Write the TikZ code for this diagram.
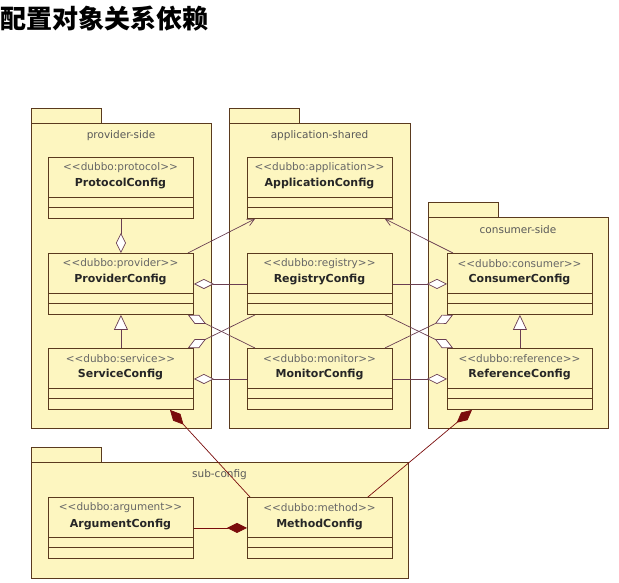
\documentclass[tikz,border=0pt]{standalone}
\usepackage{fontspec}
\setmainfont{DejaVu Sans}
\newfontfamily\cjk{Noto Sans CJK SC}
\usetikzlibrary{arrows.meta,calc}
\definecolor{pk}{HTML}{FDF6C0}
\definecolor{bd}{HTML}{5A3A1E}
\definecolor{ln}{HTML}{6A3E52}
\definecolor{cm}{HTML}{7A0C0C}
\tikzset{x=1pt,y=-1pt,
 pkg/.style={draw=bd,fill=pk,line width=0.9pt},
 cls/.style={draw=bd,fill=pk,line width=0.9pt,minimum width=145pt,minimum height=61pt,anchor=north west,inner sep=0pt},
 lbl/.style={font=\fontsize{10.5}{12}\selectfont,text=black!65},
 st/.style={font=\fontsize{10.5}{12}\selectfont,text=black!60},
 nm/.style={font=\bfseries\fontsize{11}{12}\selectfont,text=black!85},
 con/.style={draw=ln,line width=0.7pt},
 agg/.style={con,{Diamond[open,length=20pt,width=10pt,fill=white]}-},
 cmp/.style={draw=cm,line width=0.7pt,{Diamond[length=20pt,width=10pt,fill=cm]}-},
 gen/.style={con,-{Triangle[open,length=15pt,width=14pt,fill=white]}},
 dep/.style={con,-{Straight Barb[length=7pt,width=7pt]}}}
\newcommand{\umlcls}[5]{%
 \node[cls] (#1) at (#2,#3) {};
 \draw[bd,line width=0.9pt] (#2,#3+40) -- ++(145,0) (#2,#3+50) -- ++(145,0);
 \node[st] at (#2+72.5,#3+11) {{<}{<}#4{>}{>}};
 \node[nm] at (#2+72.5,#3+27) {#5};}
\newcommand{\umlpkg}[6]{%
 \draw[pkg] (#2,#3) rectangle (#2+70,#3+15);
 \node[pkg,anchor=north west,minimum width=#4pt,minimum height=#5pt,inner sep=0pt] (#1) at (#2,#3+15) {};
 \node[lbl] at (#2+#4/2,#3+28) {#6};}
\begin{document}
\begin{tikzpicture}
\useasboundingbox (0,0) rectangle (619,582);
\node[anchor=west,inner sep=0pt,font=\cjk\bfseries\fontsize{26}{30}\selectfont] (title) at (0,19) {配置对象关系依赖};
\umlpkg{pp}{31}{108}{180}{305}{provider-side}
\umlpkg{pa}{229}{108}{181}{305}{application-shared}
\umlpkg{pc}{428}{202}{180}{211}{consumer-side}
\umlpkg{ps}{31}{447}{377}{116}{sub-config}
\umlcls{proto}{48}{157}{dubbo:protocol}{ProtocolConfig}
\umlcls{prov}{48}{253}{dubbo:provider}{ProviderConfig}
\umlcls{serv}{48}{348}{dubbo:service}{ServiceConfig}
\umlcls{app}{247}{157}{dubbo:application}{ApplicationConfig}
\umlcls{reg}{247}{253}{dubbo:registry}{RegistryConfig}
\umlcls{mon}{247}{348}{dubbo:monitor}{MonitorConfig}
\umlcls{cons}{447}{253}{dubbo:consumer}{ConsumerConfig}
\umlcls{ref}{447}{348}{dubbo:reference}{ReferenceConfig}
\umlcls{arg}{48}{497}{dubbo:argument}{ArgumentConfig}
\umlcls{meth}{247}{497}{dubbo:method}{MethodConfig}
% provider side
\draw[agg] (prov.north) -- (proto.south);
\draw[gen] (serv.north) -- (prov.south);
\draw[dep] ([xshift=-6pt]prov.north east) -- ([xshift=8pt]app.south west);
\draw[agg] (prov.east |- reg.center) -- (reg.west |- reg.center);
\draw[agg] (serv.east |- mon.center) -- (mon.west |- mon.center);
\draw[agg] ([xshift=-6pt]prov.south east) -- ([xshift=8pt]mon.north west);
\draw[agg] ([xshift=-6pt]serv.north east) -- ([xshift=8pt]reg.south west);
% consumer side
\draw[gen] (ref.north) -- (cons.south);
\draw[dep] ([xshift=6pt]cons.north west) -- ([xshift=-8pt]app.south east);
\draw[agg] (cons.west |- reg.center) -- (reg.east |- reg.center);
\draw[agg] (ref.west |- mon.center) -- (mon.east |- mon.center);
\draw[agg] ([xshift=6pt]ref.north west) -- ([xshift=-8pt]reg.south east);
\draw[agg] ([xshift=6pt]cons.south west) -- ([xshift=-8pt]mon.north east);
% sub-config
\draw[cmp] ([xshift=122pt]serv.south west) -- ([xshift=3pt]meth.north west);
\draw[cmp] ([xshift=25pt]ref.south west) -- ([xshift=-25pt]meth.north east);
\draw[cmp] (meth.west |- arg.center) -- (arg.east |- arg.center);
\end{tikzpicture}
\end{document}
